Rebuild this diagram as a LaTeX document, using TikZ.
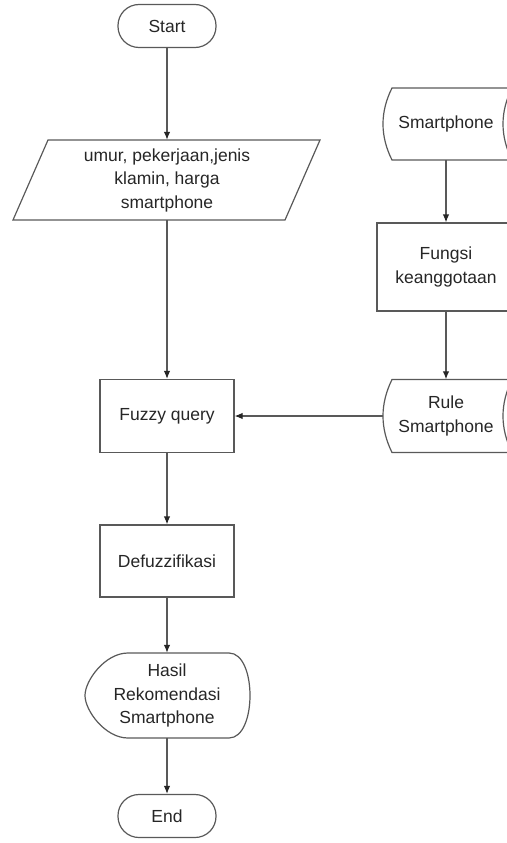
\documentclass[tikz,border=0pt]{standalone}
\usepackage{fontspec}
\setmainfont{Liberation Sans}
\usetikzlibrary{arrows.meta,calc}

\begin{document}
\begin{tikzpicture}[x=1pt,y=-1pt,
  every node/.style={font=\fontsize{17.5}{23.5}\selectfont,text=black!85,align=center,inner sep=0pt},
  edge/.style={draw=black!65,line width=1.2pt},
  box/.style={edge,minimum width=134pt,minimum height=73pt},
  term/.style={edge,rounded corners=21pt,minimum width=98pt,minimum height=43pt},
  arr/.style={edge,-{Latex[length=8pt,width=6.5pt,color=black!85]}}]

\useasboundingbox (0,0) rectangle (506,843);

\node[term] (start) at (167,26) {Start};

\node[minimum width=272pt,minimum height=80pt] (inp) at (167,180)
  {umur, pekerjaan,jenis\\klamin, harga\\smartphone};
\draw[edge] ($(inp)+(-119,-40)$) -- ($(inp)+(153,-40)$)
  -- ($(inp)+(118,40)$) -- ($(inp)+(-154,40)$) -- cycle;

\node[box] (fuzzy) at (167,416) {Fuzzy query};
\node[box,minimum height=72pt] (defuz) at (167,561) {Defuzzifikasi};

\node[minimum width=166pt,minimum height=85pt] (hasil) at (167,695.5)
  {Hasil\\Rekomendasi\\Smartphone};
\draw[edge] ($(hasil)+(-39,-42.5)$) -- ($(hasil)+(62,-42.5)$)
  .. controls ($(hasil)+(90,-42.5)$) and ($(hasil)+(90,42.5)$) .. ($(hasil)+(62,42.5)$)
  -- ($(hasil)+(-39,42.5)$)
  .. controls ($(hasil)+(-62,42.5)$) and ($(hasil)+(-82,15)$) .. ($(hasil)+(-82,0)$)
  .. controls ($(hasil)+(-82,-15)$) and ($(hasil)+(-62,-42.5)$) .. ($(hasil)+(-39,-42.5)$) -- cycle;

\node[term] (end) at (167,816) {End};

\node[minimum width=126pt,minimum height=72pt] (sdata) at (446,124) {Smartphone};
\draw[edge] ($(sdata)+(-54,-36)$) -- ($(sdata)+(66,-36)$)
  .. controls ($(sdata)+(54,-12)$) and ($(sdata)+(54,12)$) .. ($(sdata)+(66,36)$)
  -- ($(sdata)+(-54,36)$)
  .. controls ($(sdata)+(-66,12)$) and ($(sdata)+(-66,-12)$) .. ($(sdata)+(-54,-36)$) -- cycle;

\node[box,minimum width=138pt,minimum height=88pt] (fungsi) at (446,267) {Fungsi\\keanggotaan};

\node[minimum width=126pt,minimum height=73pt] (rule) at (446,416) {Rule\\Smartphone};
\draw[edge] ($(rule)+(-54,-36.5)$) -- ($(rule)+(66,-36.5)$)
  .. controls ($(rule)+(54,-12)$) and ($(rule)+(54,12)$) .. ($(rule)+(66,36.5)$)
  -- ($(rule)+(-54,36.5)$)
  .. controls ($(rule)+(-66,12)$) and ($(rule)+(-66,-12)$) .. ($(rule)+(-54,-36.5)$) -- cycle;

\draw[arr] (start.south) -- (inp.north);
\draw[arr] (inp.south) -- (fuzzy.north);
\draw[arr] (sdata.south) -- (fungsi.north);
\draw[arr] (fungsi.south) -- (rule.north);
\draw[arr] (rule.west) -- (fuzzy.east);
\draw[arr] (fuzzy.south) -- (defuz.north);
\draw[arr] (defuz.south) -- (hasil.north);
\draw[arr] (hasil.south) -- (end.north);

\end{tikzpicture}
\end{document}
